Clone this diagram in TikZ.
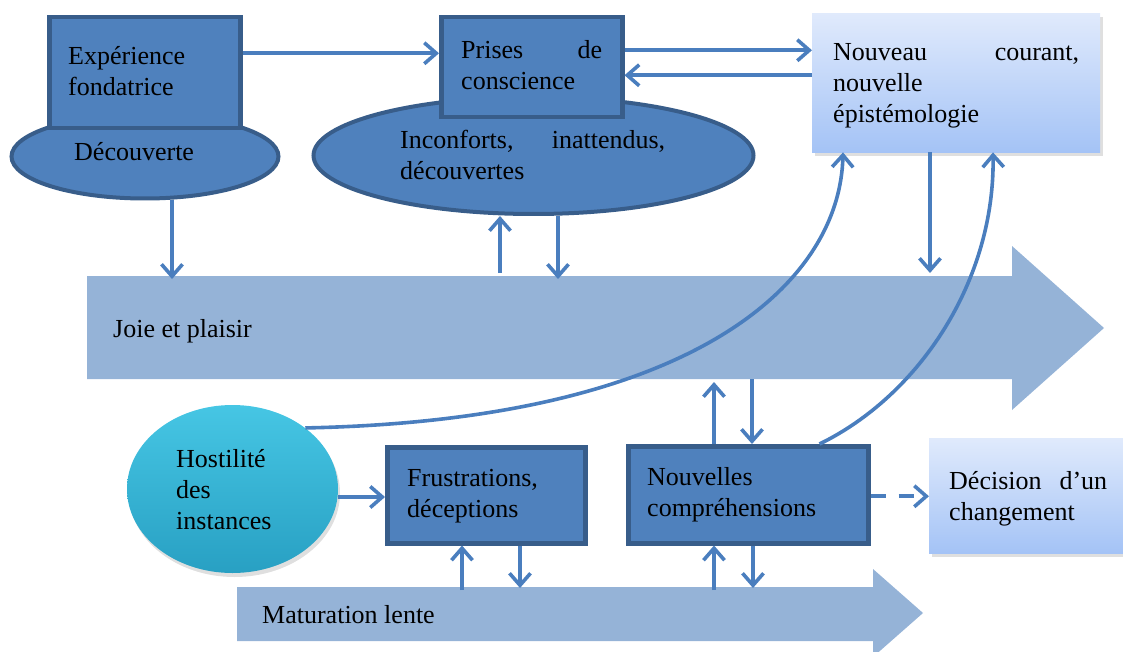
\documentclass[tikz,border=0pt]{standalone}
\usepackage{fontspec}
\setmainfont{Liberation Serif}
\usetikzlibrary{arrows.meta,shapes.geometric,shadows}
\definecolor{boxfill}{RGB}{79,129,189}
\definecolor{boxline}{RGB}{56,93,138}
\definecolor{linec}{RGB}{74,126,190}
\definecolor{bigarr}{RGB}{149,179,215}
\definecolor{lighttop}{RGB}{224,234,252}
\definecolor{lightbot}{RGB}{164,195,246}
\definecolor{cyantop}{RGB}{70,198,228}
\definecolor{cyanbot}{RGB}{40,160,195}
\newcommand{\jline}[2]{\leavevmode\hbox to #1{#2}}
\tikzset{
  darkbox/.style={rectangle, draw=boxline, fill=boxfill, line width=4.5pt, anchor=north west, inner sep=0pt},
  darkell/.style={ellipse, draw=boxline, fill=boxfill, line width=4pt, inner sep=0pt},
  lightbox/.style={rectangle, top color=lighttop, bottom color=lightbot, draw=none, anchor=north west, inner sep=0pt,
    drop shadow={shadow xshift=3pt, shadow yshift=-4pt, opacity=0.25}},
  txt/.style={anchor=base west, inner sep=0pt, font=\fontsize{26}{31}\selectfont},
  arr/.style={draw=linec, line width=3.6pt, -{Straight Barb[length=12pt,width=21pt]}},
  bigarrow/.style={fill=bigarr},
}
\begin{document}
\begin{tikzpicture}[x=1pt,y=-1pt]
\useasboundingbox (0,0) rectangle (1123,652);
\clip (0,0) rectangle (1123,652);

% big arrows
\fill[bigarrow] (87,276) -- (1012,276) -- (1012,246) -- (1104,328) -- (1012,410) -- (1012,379) -- (87,379) -- cycle;
\fill[bigarrow] (237,587) -- (873,587) -- (873,569) -- (923,613) -- (873,657) -- (873,641) -- (237,641) -- cycle;
\node[txt] (joie) at (113,337) {Joie et plaisir};
\node[txt] (mat) at (262,623) {Maturation lente};

% connector end points on the big arrows
\coordinate (jt1) at (172,279);
\coordinate (jt2) at (500,273);
\coordinate (jt3) at (558,279);
\coordinate (jt4) at (930,273);
\coordinate (jb1) at (714,382);
\coordinate (jb2) at (752,379);
\coordinate (mt1) at (462,590);
\coordinate (mt2) at (520,588);
\coordinate (mt3) at (714,590);
\coordinate (mt4) at (753,588);

% top-left group
\node[darkell, minimum width=267pt, minimum height=84pt] (dec) at (145,156.5) {};
\node[darkbox, minimum width=191pt, minimum height=111pt] (exp) at (47,15) {};
\node[txt] (expt) at (68,65) {\parbox[t]{200pt}{Expérience\\fondatrice}};
\node[txt] (dect) at (74,161) {Découverte};

% middle group
\node[darkell, minimum width=440pt, minimum height=117pt] (inc) at (533.5,155.5) {};
\node[darkbox, minimum width=181pt, minimum height=100pt] (pri) at (439,15) {};
\node[txt] (prit) at (461,59) {\parbox[t]{200pt}{\jline{141pt}{Prises\hfill de}\\conscience}};
\node[txt] (inct) at (400,149) {\parbox[t]{300pt}{\jline{265pt}{Inconforts,\hfill inattendus,}\\découvertes}};

% right group
\node[lightbox, minimum width=288pt, minimum height=139pt] (nouv) at (812,13) {};
\node[txt] (nouvt) at (833,61) {\parbox[t]{260pt}{\jline{246pt}{Nouveau\hfill courant,}\\nouvelle\\épistémologie}};

% bottom row
\node[ellipse, inner sep=0pt, minimum width=211pt, minimum height=168pt, top color=cyantop, bottom color=cyanbot,
  drop shadow={shadow xshift=2pt, shadow yshift=-4pt, opacity=0.25}] (hos) at (232.5,489) {};
\node[txt] (host) at (176,467) {\parbox[t]{150pt}{Hostilité\\des\\instances}};
\node[darkbox, minimum width=198pt, minimum height=96pt] (fru) at (385,445) {};
\node[txt] (frut) at (407,486) {\parbox[t]{180pt}{Frustrations,\\déceptions}};
\node[darkbox, minimum width=240pt, minimum height=97pt] (nc) at (626,444) {};
\node[txt] (nct) at (647,485) {\parbox[t]{220pt}{Nouvelles\\compréhensions}};
\node[lightbox, minimum width=200pt, minimum height=115pt] (dc) at (929,438) {};
\node[txt] (dct) at (949,489) {\parbox[t]{180pt}{\jline{158pt}{Décision\hfill d’un}\\changement}};

% top connectors
\draw[arr] ([yshift=19.5pt]exp.east) -- ([yshift=19.5pt]exp.east -| pri.west);
\draw[arr] ([yshift=17pt]pri.east) -- ([yshift=17pt]pri.east -| nouv.west);
\draw[arr] ([yshift=-8pt]pri.east -| nouv.west) -- ([yshift=-8pt]pri.east);

% vertical connectors
\draw[arr] (dec.south -| jt1) -- (jt1);
\draw[arr] (jt2) -- (jt2 |- inc.south);
\draw[arr] (inc.south -| jt3) -- (jt3);
\draw[arr] (nouv.south -| jt4) -- (jt4);
\draw[arr] (nc.north -| jb1) -- (jb1);
\draw[arr] (jb2) -- (jb2 |- nc.north);
\draw[arr] (mt1) -- (mt1 |- fru.south);
\draw[arr] (fru.south -| mt2) -- (mt2);
\draw[arr] (mt3) -- (mt3 |- nc.south);
\draw[arr] (nc.south -| mt4) -- (mt4);

% horizontal connectors
\draw[arr] ([yshift=-8pt]hos.east) -- ([yshift=-8pt]hos.east -| fru.west);
\draw[arr, dash pattern=on 15pt off 13pt] ([yshift=-1.5pt]nc.east) -- ([yshift=-1.5pt]nc.east -| dc.west);

% curves
\draw[arr] (hos.40) .. controls (700,420) and (840,280) .. ([xshift=31pt]nouv.south west);
\draw[arr] ([xshift=-51pt]nc.north east) .. controls (920,395) and (995,280) .. ([xshift=181pt]nouv.south west);
\end{tikzpicture}
\end{document}
